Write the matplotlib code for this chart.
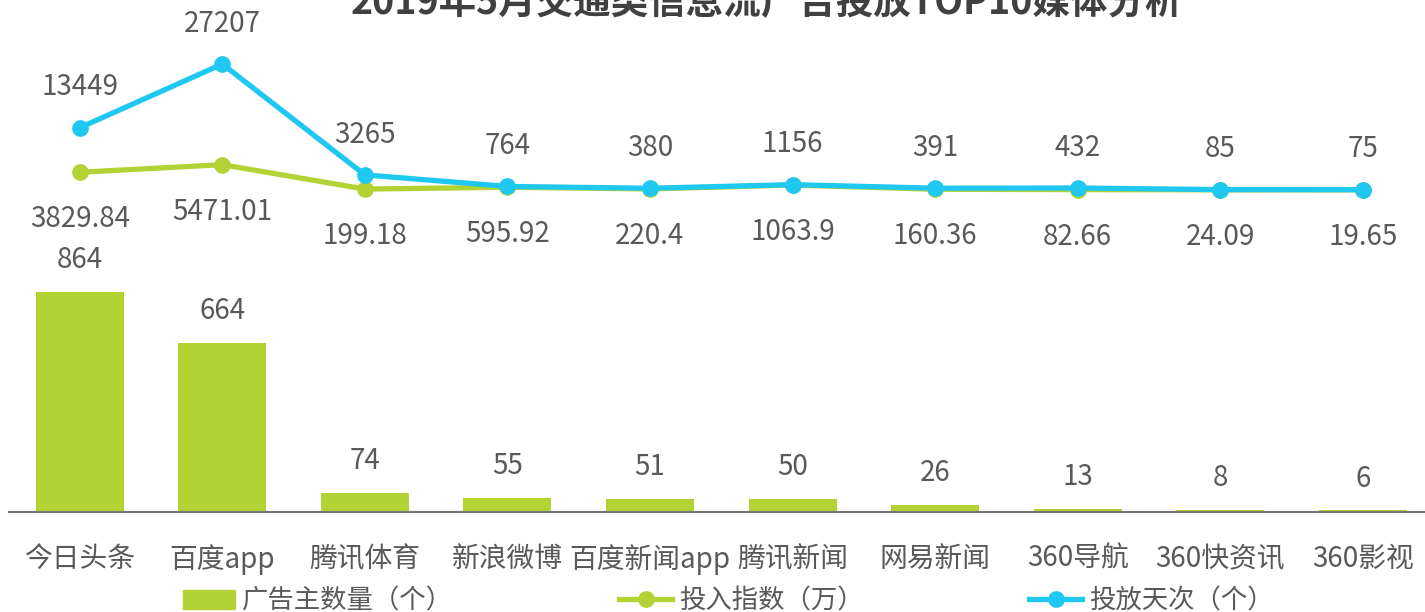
import matplotlib.pyplot as plt
from matplotlib.lines import Line2D
from matplotlib.patches import Patch

plt.rcParams['font.family'] = ['Noto Sans CJK SC', 'DejaVu Sans']

media = ['今日头条', '百度app', '腾讯体育', '新浪微博', '百度新闻app',
         '腾讯新闻', '网易新闻', '360导航', '360快资讯', '360影视']
advertisers = [864, 664, 74, 55, 51, 50, 26, 13, 8, 6]
invest_index = [3829.84, 5471.01, 199.18, 595.92, 220.4, 1063.9, 160.36, 82.66, 24.09, 19.65]
days = [13449, 27207, 3265, 764, 380, 1156, 391, 432, 85, 75]

green = '#b3d334'
blue = '#1fc8f0'
grey = '#595959'
fs = 20

W, H = 1425, 612
fig = plt.figure(figsize=(W / 100, H / 100), dpi=100)

left = 8.5 / W
width = 1425.5 / W
x = list(range(len(media)))

# bars, bottom part
axb = fig.add_axes([left, 1 - 512 / H, width, 254.6 / H])
axb.bar(x, advertisers, width=0.617, color=green)
axb.set_xlim(-0.5, 9.5)
axb.set_ylim(0, 1000)
for i, v in zip(x, advertisers):
    axb.annotate(str(v), (i, v), xytext=(0, 23), textcoords='offset points',
                 ha='center', va='center', fontsize=fs, color=grey)
for s in ['top', 'right', 'left']:
    axb.spines[s].set_visible(False)
axb.spines['bottom'].set_color('#767676')
axb.spines['bottom'].set_linewidth(1.5)
axb.set_yticks([])
axb.set_xticks(x)
axb.set_xticklabels(media, fontsize=fs, color=grey)
axb.tick_params(axis='x', length=0, pad=23)

# lines, top part
axl = fig.add_axes([left, 1 - 190 / H, width, 138.9 / H])
axl.set_xlim(-0.5, 9.5)
axl.set_ylim(0, 30000)
axl.axis('off')
axl.plot(x, invest_index, color=green, lw=3.8, marker='o', ms=11, clip_on=False)
axl.plot(x, days, color=blue, lw=3.8, marker='o', ms=11, clip_on=False)
for i, v in zip(x, invest_index):
    axl.annotate(f'{v:g}', (i, v), xytext=(0, -34), textcoords='offset points',
                 ha='center', va='center', fontsize=fs, color=grey)
for i, v in zip(x, days):
    axl.annotate(str(v), (i, v), xytext=(0, 29), textcoords='offset points',
                 ha='center', va='center', fontsize=fs, color=grey)

fig.text(767 / W, 1 - 3 / H, '2019年5月交通类信息流广告投放TOP10媒体分析',
         ha='center', va='center', fontsize=27, fontweight='bold', color='#404040')

handles = [Patch(color=green),
           Line2D([], [], color=green, lw=3.8, marker='o', ms=11),
           Line2D([], [], color=blue, lw=3.8, marker='o', ms=11)]
labels = ['广告主数量（个）', '投入指数（万）', '投放天次（个）']
fig.legend(handles, labels, loc='center', bbox_to_anchor=(728 / W, 1 - 601 / H),
           ncol=3, frameon=False, fontsize=19, labelcolor=grey,
           handlelength=2.0, handletextpad=0.25, columnspacing=6.3,
           borderpad=0, handleheight=0.7)

fig.savefig('out.png', dpi=100)
